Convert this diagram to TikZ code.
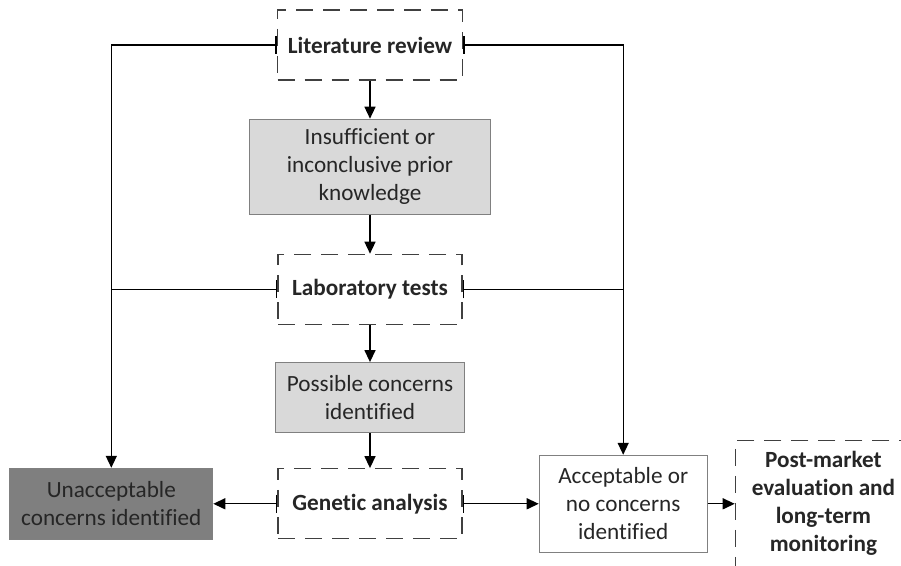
\documentclass[tikz,border=0pt]{standalone}
\usepackage{fontspec}
\setmainfont{Carlito}[Ligatures=NoCommon]
\usetikzlibrary{arrows.meta,positioning}

\definecolor{txtgray}{HTML}{262626}
\definecolor{lightfill}{HTML}{D9D9D9}
\definecolor{darkfill}{HTML}{7F7F7F}
\definecolor{dashgray}{HTML}{404040}

\begin{document}
\begin{tikzpicture}[x=0.5pt,y=-0.5pt,node distance=19pt,
                    >={Triangle[length=6pt,width=5.5pt]},line width=0.7pt,
                    every node/.style={font=\fontsize{11.6}{14}\selectfont,text=txtgray,align=center}]
  \tikzstyle{stage}=[draw=dashgray,dash pattern=on 8.5pt off 5pt,line width=0.7pt,fill=white,
                     font=\fontsize{11.6}{14}\selectfont\bfseries]
  \tikzstyle{finding}=[draw=gray,line width=0.5pt,fill=lightfill]
  \tikzstyle{tee}=[{Bar[width=9pt]}->]

  \useasboundingbox (0,0) rectangle (901,566);

  \node[stage,minimum width=92.5pt,minimum height=35pt]    (lit)    at (370,45)            {Literature review};
  \node[finding,minimum width=120.5pt,minimum height=47.5pt] (insuff) [below=of lit]       {Insufficient or\\inconclusive prior\\knowledge};
  \node[stage,minimum width=92pt,minimum height=35pt]      (lab)    [below=19.5pt of insuff] {Laboratory tests};
  \node[finding,minimum width=94.5pt,minimum height=35pt]  (poss)   [below=18.5pt of lab]  {Possible concerns\\identified};
  \node[stage,minimum width=92pt,minimum height=35pt]      (gen)    [below=17.5pt of poss] {Genetic analysis};
  \node[draw=gray,line width=0.5pt,fill=darkfill,minimum width=101.5pt,minimum height=35.5pt] (unacc) [left=32pt of gen] {Unacceptable\\concerns identified};
  \node[draw=gray,line width=0.5pt,fill=white,minimum width=84pt,minimum height=48.5pt]       (acc)   [right=38pt of gen] {Acceptable or\\no concerns\\identified};
  \node[stage,minimum width=88pt,minimum height=63pt]      (post)   [right=13.5pt of acc]  {Post-market\\evaluation and\\long-term\\monitoring};

  \draw[->] (lit) -- (insuff);
  \draw[->] (insuff) -- (lab);
  \draw[->] (lab) -- (poss);
  \draw[->] (poss) -- (gen);

  \draw[tee] (lit.west) -| (unacc.north);
  \draw[tee] (lit.east) -| (acc.north);
  \draw[{Bar[width=9pt]}-] (lab.west) -- (lab.west -| unacc.north);
  \draw[{Bar[width=9pt]}-] (lab.east) -- (lab.east -| acc.north);

  \draw[tee] (gen.west) -- (unacc.east);
  \draw[tee] (gen.east) -- (acc.west);
  \draw[->] (acc.east) -- (post.west);
\end{tikzpicture}
\end{document}
